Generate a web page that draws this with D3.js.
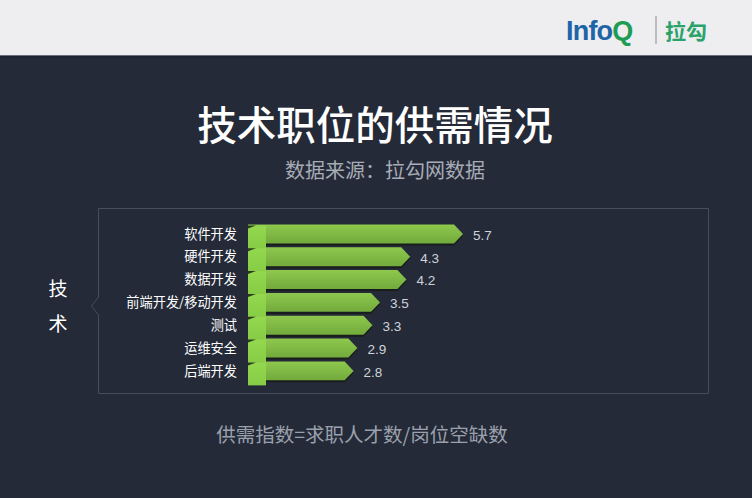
<!DOCTYPE html>
<html><head><meta charset="utf-8">
<script src="https://cdn.jsdelivr.net/npm/d3@7/dist/d3.min.js"></script>
<style>html,body{margin:0;padding:0;background:#242a38;}svg{display:block;}</style>
</head><body><svg id="c" width="752" height="498"></svg>
<script>
const categories = ["软件开发","硬件开发","数据开发","前端开发/移动开发","测试","运维安全","后端开发"];
const values = [5.7, 4.3, 4.2, 3.5, 3.3, 2.9, 2.8];
const title = "技术职位的供需情况";
const subtitle = "数据来源：拉勾网数据";
const footnote = "供需指数=求职人才数/岗位空缺数";
const groupLabel = ["技","术"];

const font = "'Noto Sans CJK SC','Noto Sans',sans-serif";
const svg = d3.select("#c");
const W = 752, H = 498;

svg.append("rect").attr("width", W).attr("height", H).attr("fill", "#242a38");

// header
svg.append("rect").attr("width", W).attr("height", 56).attr("fill", "#eeedf0");
svg.append("rect").attr("y", 55).attr("width", W).attr("height", 1).attr("fill", "#6a6e78");
svg.append("rect").attr("y", 56).attr("width", W).attr("height", 2).attr("fill", "#1e2330");
const logo = svg.append("text").attr("x", 566).attr("y", 40).attr("font-family", "'Liberation Sans',Arial,sans-serif")
  .attr("font-weight", "bold").attr("font-size", 27).attr("letter-spacing", -0.8);
logo.append("tspan").attr("fill", "#1d64a8").text("Info");
logo.append("tspan").attr("fill", "#1f9c54").text("Q");
svg.append("line").attr("x1", 656).attr("x2", 656).attr("y1", 16).attr("y2", 44).attr("stroke", "#8a8a8a").attr("stroke-width", 1);
svg.append("text").attr("x", 665).attr("y", 39).attr("font-family", font).attr("font-weight", "bold")
  .attr("font-size", 21).attr("fill", "#2aa36b").text("拉勾");

// titles
svg.append("text").attr("x", 375).attr("y", 140).attr("text-anchor", "middle").attr("font-family", font)
  .attr("font-size", 39.5).attr("font-weight", 500).attr("fill", "#ffffff").text(title);
svg.append("text").attr("x", 385).attr("y", 178).attr("text-anchor", "middle").attr("font-family", font)
  .attr("font-size", 20).attr("fill", "#a7acb6").text(subtitle);

// box with left notch
const bx0 = 98.5, bx1 = 708.5, by0 = 208.5, by1 = 393.5, ny = 306;
svg.append("path")
  .attr("d", `M${bx0},${by0} L${bx1},${by0} L${bx1},${by1} L${bx0},${by1} L${bx0},${ny+9} L${bx0-7},${ny} L${bx0},${ny-9} Z`)
  .attr("fill", "#242a38").attr("stroke", "#464d5d").attr("stroke-width", 1);

// group label
groupLabel.forEach((ch, i) => {
  svg.append("text").attr("x", 58).attr("y", 296 + i * 35).attr("text-anchor", "middle")
    .attr("font-family", font).attr("font-size", 19).attr("fill", "#ffffff").text(ch);
});

// scales
const x = d3.scaleLinear().domain([0, 5.7]).range([248, 463]);
const y = d3.scaleBand().domain(categories).range([222.5, 382.3]).paddingInner(0.17).paddingOuter(0.085);
const h = y.bandwidth();
const tip = 9;

const defs = svg.append("defs");
const g1 = defs.append("linearGradient").attr("id", "barg").attr("x1", 0).attr("x2", 0).attr("y1", 0).attr("y2", 1);
g1.append("stop").attr("offset", "0%").attr("stop-color", "#8ec84d");
g1.append("stop").attr("offset", "100%").attr("stop-color", "#72aa3c");
const g2 = defs.append("linearGradient").attr("id", "blockg").attr("x1", 0).attr("x2", 0).attr("y1", 0).attr("y2", 1);
g2.append("stop").attr("offset", "0%").attr("stop-color", "#93d84e");
g2.append("stop").attr("offset", "100%").attr("stop-color", "#86cc45");

const rows = svg.append("g").selectAll("g").data(categories.map((c, i) => ({c, v: values[i]}))).join("g");

// shadow under bar
rows.append("path").attr("d", d => {
  const y0 = y(d.c) + 2, x0 = x(0), xe = x(d.v);
  return `M${x0},${y0} L${xe-tip},${y0} L${xe},${y0+h/2} L${xe-tip},${y0+h} L${x0},${y0+h} Z`;
}).attr("fill", "#151a14").attr("opacity", 0.8);

rows.append("path").attr("d", d => {
  const y0 = y(d.c), x0 = x(0), xe = x(d.v);
  return `M${x0},${y0} L${xe-tip},${y0} L${xe},${y0+h/2} L${xe-tip},${y0+h} L${x0},${y0+h} Z`;
}).attr("fill", "url(#barg)");

// left block
rows.append("rect").attr("x", x(0)).attr("y", d => y(d.c) + 1).attr("width", 18).attr("height", h + 4)
  .attr("fill", "url(#blockg)");
rows.append("path").attr("d", d => {
  const y0 = y(d.c) + 1, x0 = x(0);
  return `M${x0},${y0} L${x0+8},${y0} L${x0},${y0+3} Z`;
}).attr("fill", "#2a3a1c");

// category labels
rows.append("text").attr("x", 237).attr("y", d => y(d.c) + h / 2).attr("dy", "0.36em")
  .attr("text-anchor", "end").attr("font-family", font).attr("font-size", 13.2).attr("fill", "#ffffff")
  .text(d => d.c);

// value labels
rows.append("text").attr("x", d => x(d.v) + 10).attr("y", d => y(d.c) + h / 2 + 1).attr("dy", "0.36em")
  .attr("font-family", "'Liberation Sans',Arial,sans-serif").attr("font-size", 13.5).attr("fill", "#cfd3da")
  .text(d => d.v.toFixed(1));

// footnote
svg.append("text").attr("x", 362).attr("y", 442).attr("text-anchor", "middle").attr("font-family", font)
  .attr("font-size", 19.5).attr("fill", "#9ba1ac").text(footnote);
</script></body></html>
